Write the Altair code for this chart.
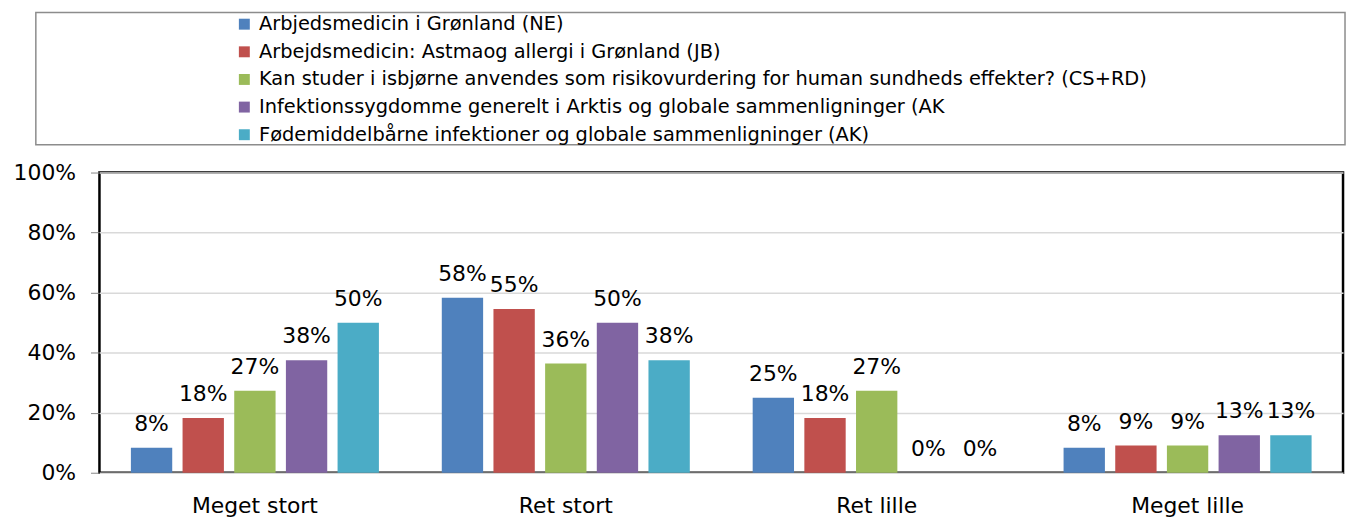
import altair as alt
import pandas as pd

categories = ["Meget stort", "Ret stort", "Ret lille", "Meget lille"]
series = [
    "Arbjedsmedicin i Grønland (NE)",
    "Arbejdsmedicin: Astmaog allergi i Grønland (JB)",
    "Kan studer i isbjørne anvendes som risikovurdering for human sundheds effekter? (CS+RD)",
    "Infektionssygdomme generelt i Arktis og globale sammenligninger (AK",
    "Fødemiddelbårne infektioner og globale sammenligninger (AK)",
]
colors = ["#4F81BD", "#C0504D", "#9BBB59", "#8064A2", "#4BACC6"]

ne = [0.083, 0.583, 0.25, 0.083]
jb = [0.182, 0.5454, 0.182, 0.091]
csrd = [0.273, 0.364, 0.273, 0.091]
ak1 = [0.375, 0.5, 0.0, 0.125]
ak2 = [0.5, 0.375, 0.0, 0.125]
values_by_series = [ne, jb, csrd, ak1, ak2]

rows = []
for s, vals in zip(series, values_by_series):
    for c, v in zip(categories, vals):
        rows.append({"category": c, "series": s, "value": v})
df = pd.DataFrame(rows)

FONT = "DejaVu Sans"
W = 1251

x_enc = alt.X(
    "category:N",
    sort=categories,
    scale=alt.Scale(paddingInner=0.169, paddingOuter=0.0845),
    axis=alt.Axis(title=None, labelAngle=0, ticks=False, domain=False,
                  labelFontSize=22, labelPadding=23, labelColor="#000000",
                  labelFont=FONT, grid=False),
)
xoff_enc = alt.XOffset(
    "series:N", sort=series,
    scale=alt.Scale(paddingInner=0.2, paddingOuter=0.1),
)
y_enc = alt.Y(
    "value:Q",
    scale=alt.Scale(domain=[0, 1], nice=False),
    axis=alt.Axis(title=None, format=".0%", values=[0, 0.2, 0.4, 0.6, 0.8, 1.0],
                  labelFontSize=22, labelFont=FONT, labelColor="#000000",
                  labelPadding=15, tickSize=9, tickColor="#868686",
                  domain=False, grid=True, gridColor="#d9d9d9", gridWidth=1.5),
)

bars = alt.Chart(df).mark_bar().encode(
    x=x_enc,
    xOffset=xoff_enc,
    y=y_enc,
    color=alt.Color(
        "series:N", sort=series,
        scale=alt.Scale(domain=series, range=colors),
        legend=alt.Legend(
            title=None, orient="none", legendX=136, legendY=-159,
            symbolType="square", symbolSize=121, symbolStrokeWidth=0,
            labelFontSize=19.5, labelFont=FONT, labelColor="#000000",
            labelLimit=0, rowPadding=6.8, padding=0, labelOffset=5,
        ),
    ),
)

labels = alt.Chart(df).mark_text(
    dy=-17, baseline="alphabetic", fontSize=22, font=FONT, color="#000000"
).encode(
    x=alt.X("category:N", sort=categories),
    xOffset=alt.XOffset("series:N", sort=series),
    y=alt.Y("value:Q"),
    text=alt.Text("value:Q", format=".0%"),
)

box = alt.Chart(pd.DataFrame({"k": [0]})).mark_rect(
    fillOpacity=0, stroke="#8c8c8c", strokeWidth=1.5
).encode(
    x=alt.value(-64), x2=alt.value(W + 2), y=alt.value(-161), y2=alt.value(-28)
)

chart = alt.layer(box, bars, labels).properties(
    width=W,
    height=302,
    padding={"left": 92, "top": 164, "right": 5, "bottom": 45},
    autosize=alt.AutoSizeParams(type="none"),
).configure_view(
    stroke="#000000", strokeWidth=2.5
)

chart.save("out.html", embed_options={"renderer": "svg", "actions": False})
